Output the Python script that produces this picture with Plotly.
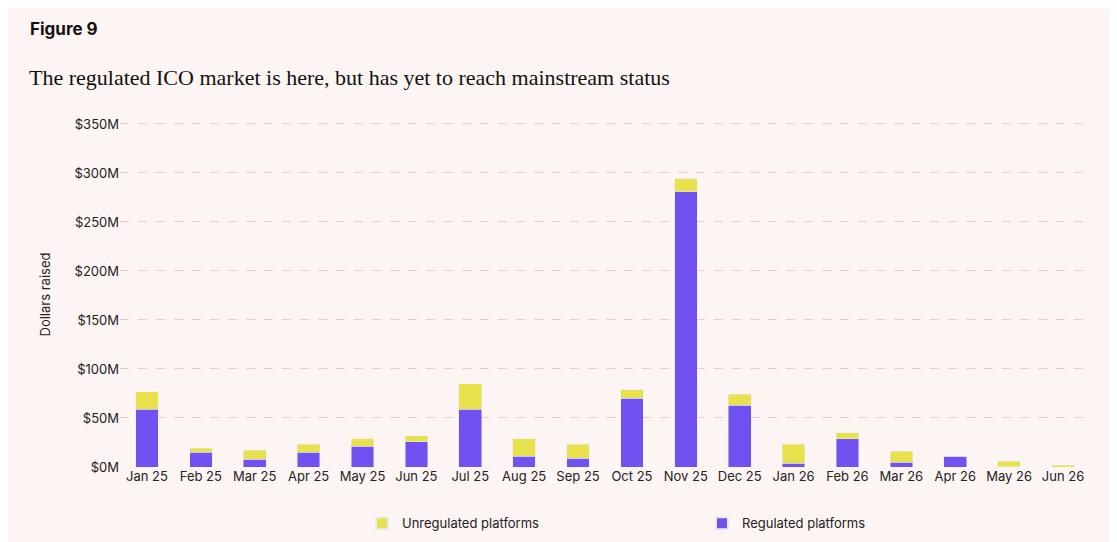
import plotly.graph_objects as go

months = ["Jan 25", "Feb 25", "Mar 25", "Apr 25", "May 25", "Jun 25", "Jul 25", "Aug 25", "Sep 25",
          "Oct 25", "Nov 25", "Dec 25", "Jan 26", "Feb 26", "Mar 26", "Apr 26", "May 26", "Jun 26"]
regulated = [59, 15, 8, 15, 21, 26, 59, 11, 9, 70, 281, 63, 4, 29, 5, 11, 0.5, 0]
unregulated = [18, 4, 9, 8, 8, 6, 26, 18, 14, 9, 13, 11, 19, 6, 11, 0, 5.5, 2]

bg = "#fdf5f3"
fig = go.Figure()
fig.add_trace(go.Bar(x=months, y=regulated, name="Regulated platforms", marker_color="#7052f0"))
fig.add_trace(go.Bar(x=months, y=unregulated, name="Unregulated platforms", marker_color="#e8e14c"))

fig.update_layout(
    barmode="stack", bargap=0.58,
    width=1117, height=542,
    paper_bgcolor=bg, plot_bgcolor=bg,
    margin=dict(l=112, r=35, t=114, b=80),
    font=dict(family="Inter, Roboto, sans-serif", size=13, color="#222"),
    legend=dict(orientation="h", traceorder="reversed", x=0.6, xanchor="center", y=-0.12, yanchor="top",
                entrywidth=295, font=dict(size=13), itemsizing="constant"),
    xaxis=dict(showgrid=False, tickfont=dict(size=13), ticks=""),
    yaxis=dict(range=[0, 352], dtick=50, tickprefix="$", ticksuffix="M", gridcolor="#f0c9c2",
               griddash="dash", zeroline=False, tickfont=dict(size=13),
               title=dict(text="Dollars raised", font=dict(size=13), standoff=20)),
)
fig.add_annotation(text="<b>Figure 9</b>", x=0, y=1, xref="paper", yref="paper", showarrow=False,
                   xshift=-92, yshift=93, xanchor="left", yanchor="middle",
                   font=dict(size=17, family="Inter, sans-serif", color="#111"))
fig.add_annotation(text="The regulated ICO market is here, but has yet to reach mainstream status",
                   x=0, y=1, xref="paper", yref="paper", showarrow=False,
                   xshift=-93, yshift=45, xanchor="left", yanchor="middle",
                   font=dict(size=22, family="Liberation Serif, serif", color="#111"))
fig.write_html("out.html")
